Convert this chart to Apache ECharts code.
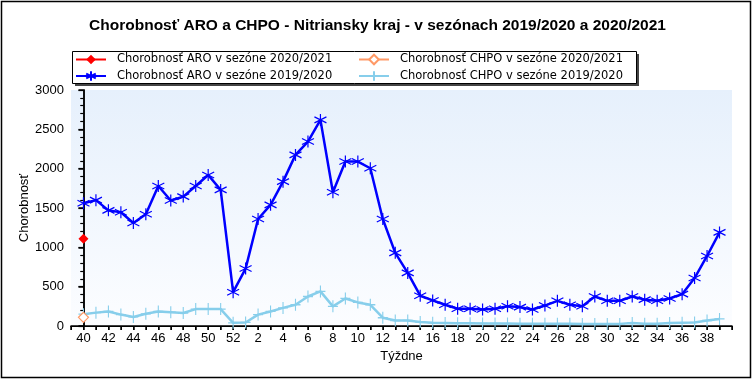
<!DOCTYPE html>
<html>
<head>
<meta charset="utf-8">
<script src="https://cdn.jsdelivr.net/npm/echarts@6/dist/echarts.min.js"></script>
<style>html,body{margin:0;padding:0;background:#fff;}#c{width:755px;height:381px;}</style>
</head>
<body>
<div id="c"></div>
<script>
var weeks = [40,41,42,43,44,45,46,47,48,49,50,51,52,1,2,3,4,5,6,7,8,9,10,11,12,13,14,15,16,17,18,19,20,21,22,23,24,25,26,27,28,29,30,31,32,33,34,35,36,37,38,39];
var aro1920 = [1560,1600,1470,1445,1310,1420,1780,1595,1645,1780,1920,1730,430,730,1360,1540,1835,2175,2345,2620,1700,2090,2090,2005,1360,930,675,385,325,270,220,220,210,220,250,240,210,260,320,270,250,375,320,320,375,335,320,350,405,610,890,1190];
var chpo1920 = [150,170,185,145,115,155,185,175,165,215,215,215,40,45,145,185,230,270,375,440,250,350,300,270,105,70,70,50,40,38,36,35,33,32,31,30,29,28,28,28,27,27,27,27,38,30,30,38,42,45,70,90];
var aro2021 = [1110];
var chpo2021 = [110];
var seriesNames = ['Chorobnosť ARO v sezóne 2020/2021','Chorobnosť CHPO v sezóne 2020/2021','Chorobnosť ARO v sezóne 2019/2020','Chorobnosť CHPO v sezóne 2019/2020'];
var titleText = 'Chorobnosť ARO a CHPO - Nitriansky kraj - v sezónach 2019/2020 a 2020/2021';

function pts(arr){ return arr.map(function(v,i){ return [i,v]; }); }
var FONT = 'Liberation Sans';
var chart = echarts.init(document.getElementById('c'), null, {renderer:'canvas'});
var asterisk = 'path://M5,0L5,10M0.7,2.5L9.3,7.5M0.7,7.5L9.3,2.5';
var plus = 'path://M5,0L5,10M0,5L10,5';
function legendAt(name, left, top){
  return {data:[name], left:left, top:top, itemWidth:30, itemHeight:12, padding:0,
    textStyle:{fontFamily:'DejaVu Sans', fontSize:11.5, color:'#000', padding:[0,0,0,6]}, selectedMode:false};
}
chart.setOption({
  animation:false,
  backgroundColor:'#fff',
  title:{text:titleText, left:'center', top:18, padding:0, textStyle:{fontFamily:FONT, fontSize:15.5, fontWeight:'bold', color:'#000'}},
  graphic:[
    {type:'rect', shape:{x:1.5,y:1.5,width:749,height:376}, style:{fill:null, stroke:'#000', lineWidth:1.5}, z:0},
    {type:'rect', shape:{x:75,y:54,width:564,height:32}, style:{fill:'#444'}, z:1},
    {type:'rect', shape:{x:72.5,y:51.5,width:564,height:32}, style:{fill:'#fff', stroke:'#000', lineWidth:1}, z:2}
  ],
  legend:[
    legendAt(seriesNames[0], 75, 53.5),
    legendAt(seriesNames[1], 358, 53.5),
    legendAt(seriesNames[2], 75, 70),
    legendAt(seriesNames[3], 358, 70)
  ],
  grid:{left:71, right:23, top:90, bottom:55, show:true, borderWidth:0,
    backgroundColor:new echarts.graphic.LinearGradient(0,0,0,1,[{offset:0,color:'#e6f0fc'},{offset:1,color:'#fcfdff'}])},
  xAxis:[{
    type:'value', min:-1, max:52, interval:1,
    name:'Týždne', nameLocation:'middle', nameGap:24,
    nameTextStyle:{fontFamily:FONT, fontSize:13, color:'#000'},
    axisLine:{show:true, lineStyle:{color:'#000', width:1.5}},
    axisTick:{show:true, length:4, lineStyle:{color:'#000', width:1.5}},
    splitLine:{show:false},
    axisLabel:{fontFamily:FONT, fontSize:13, color:'#000', margin:6,
      formatter:function(v){ var w = weeks[v]; return (w!==undefined && w%2===0) ? String(w) : ''; }}
  },{
    type:'value', position:'top', min:-1, max:52, interval:1,
    axisLine:{show:true, lineStyle:{color:'#000', width:1}},
    axisTick:{show:true, inside:true, length:4, lineStyle:{color:'#000'}},
    axisLabel:{show:false}, splitLine:{show:false}
  }],
  yAxis:[{
    type:'value', min:0, max:3000, interval:500,
    name:'Chorobnosť', nameLocation:'middle', nameGap:40, nameRotate:90, nameMoveOverlap:false,
    nameTextStyle:{fontFamily:FONT, fontSize:13, color:'#000'},
    axisLine:{show:true, lineStyle:{color:'#000', width:1.5}},
    axisTick:{show:true, length:5, lineStyle:{color:'#000', width:1.5}},
    minorTick:{show:true, splitNumber:5, length:3, lineStyle:{color:'#000', width:1.2}},
    splitLine:{show:false},
    axisLabel:{fontFamily:FONT, fontSize:13, color:'#000', margin:7, formatter:function(v){ return String(v); }}
  },{
    type:'value', position:'right', min:0, max:3000, interval:500,
    axisLine:{show:true, lineStyle:{color:'#000', width:1.5}},
    axisTick:{show:true, inside:true, length:5, lineStyle:{color:'#000', width:1.2}},
    minorTick:{show:true, splitNumber:5, length:3, lineStyle:{color:'#000', width:1}},
    axisLabel:{show:false}, splitLine:{show:false}
  }],
  series:[
    {name:seriesNames[3], type:'line', data:pts(chpo1920), symbol:plus, symbolSize:[10,12],
      lineStyle:{color:'#87ceeb', width:2.5}, itemStyle:{color:'#87ceeb', borderColor:'#87ceeb', borderWidth:1.2}, z:3},
    {name:seriesNames[2], type:'line', data:pts(aro1920), symbol:asterisk, symbolSize:[12,12],
      lineStyle:{color:'#0000ff', width:2.5}, itemStyle:{color:'#0000ff', borderColor:'#0000ff', borderWidth:1.2}, z:4},
    {name:seriesNames[1], type:'line', data:pts(chpo2021), symbol:'diamond', symbolSize:10,
      lineStyle:{color:'#ff9966', width:2}, itemStyle:{color:'#fff', borderColor:'#ff9966', borderWidth:1.2}, z:5},
    {name:seriesNames[0], type:'line', data:pts(aro2021), symbol:'diamond', symbolSize:10,
      lineStyle:{color:'#ff0000', width:2.5}, itemStyle:{color:'#ff0000'}, z:6}
  ]
});
</script>
</body>
</html>
